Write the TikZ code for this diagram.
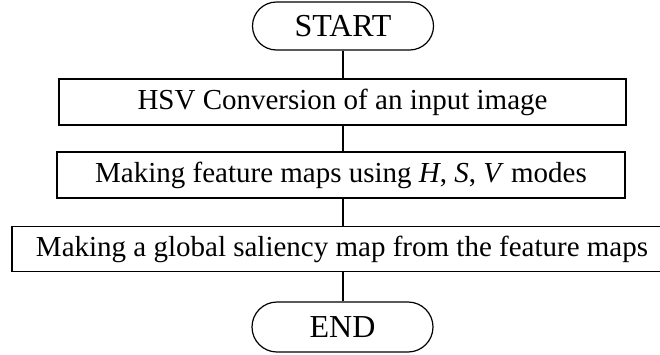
\documentclass[tikz,border=0pt]{standalone}
\usepackage{fontspec}
\setmainfont{Liberation Serif}
\usetikzlibrary{shapes.misc}

\tikzset{
  flowbox/.style={draw, line width=1.2pt, rectangle, minimum height=46pt, inner sep=0pt,
    font=\fontsize{29}{34}\selectfont},
  terminal/.style={draw, line width=1.2pt, rounded rectangle, minimum width=181pt, minimum height=48pt, inner sep=0pt,
    font=\fontsize{32}{38}\selectfont},
  link/.style={line width=1.2pt}
}

\begin{document}
\begin{tikzpicture}[x=1pt,y=-1pt]
\useasboundingbox (0,0) rectangle (660,354);
\clip (0,0) rectangle (660,354);

% Terminals and steps
\node[terminal] (start) at (343,26) {START};
\node[flowbox, minimum width=567pt] (hsv) at (342.5,102) {HSV Conversion of an input image};
\node[flowbox, minimum width=568pt] (feat) at (341,175) {Making feature maps using \textit{H}, \textit{S}, \textit{V} modes};
\node[flowbox, minimum width=660pt, minimum height=45pt] (glob) at (342,249) {Making a global saliency map from the feature maps};
\node[terminal, minimum height=50pt] (end) at (342.5,327) {END};

% Links
\draw[link] (start.south) -- (start.south |- hsv.north);
\draw[link] (start.south |- hsv.south) -- (start.south |- feat.north);
\draw[link] (start.south |- feat.south) -- (start.south |- glob.north);
\draw[link] (start.south |- glob.south) -- (start.south |- end.north);
\end{tikzpicture}
\end{document}
